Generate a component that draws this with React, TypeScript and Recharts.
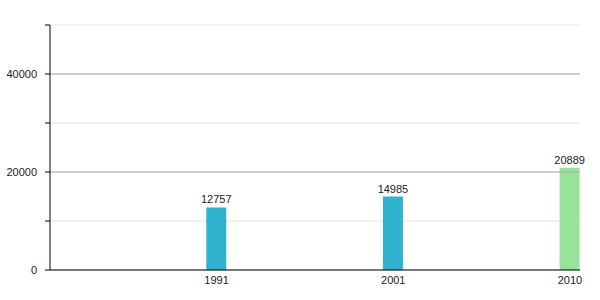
import React from 'react';
import { BarChart, Bar, XAxis, YAxis, CartesianGrid, ReferenceLine, LabelList, Cell } from 'recharts';

const years = ['1991', '2001', '2010'];
const population = [12757, 14985, 20889];
const barColors = ['#31b2cf', '#31b2cf', '#96e49a'];
const yTicks = [0, 10000, 20000, 30000, 40000, 50000];
const majorLines = [20000, 40000];

const data = years.map((year, i) => ({ idx: i + 1, year, value: population[i] }));

const font = { fontFamily: '"Liberation Sans", Arial, sans-serif', fontSize: 11, fill: '#222' };

const App: React.FC = () => {
  return (
    <div style={{ position: 'fixed', left: 0, top: 0, background: '#fff' }}>
      <BarChart width={600} height={300} data={data} margin={{ top: 25, right: 20, bottom: 0, left: 0 }}>
        <CartesianGrid vertical={false} stroke="#e4e4e4" />
        {majorLines.map((v) => (
          <ReferenceLine key={v} y={v} stroke="#aaaaaa" />
        ))}
        <XAxis
          dataKey="idx"
          type="number"
          domain={[0.057, 3.057]}
          ticks={[1, 2, 3]}
          interval={0}
          tickFormatter={(i: number) => years[i - 1]}
          tickLine={false}
          tickSize={4}
          tickMargin={2}
          height={30}
          axisLine={{ stroke: '#000' }}
          tick={font}
        />
        <YAxis
          domain={[0, 50000]}
          ticks={yTicks}
          interval={0}
          width={50}
          tickSize={5}
          tickMargin={8}
          tickFormatter={(v: number) => (v % 20000 === 0 ? String(v) : '')}
          axisLine={{ stroke: '#000' }}
          tickLine={{ stroke: '#000' }}
          tick={font}
        />
        <Bar dataKey="value" barSize={20} isAnimationActive={false}>
          {data.map((d, i) => (
            <Cell key={d.year} fill={barColors[i]} />
          ))}
          <LabelList dataKey="value" position="top" offset={4} style={font} />
        </Bar>
      </BarChart>
    </div>
  );
};

export default App;
